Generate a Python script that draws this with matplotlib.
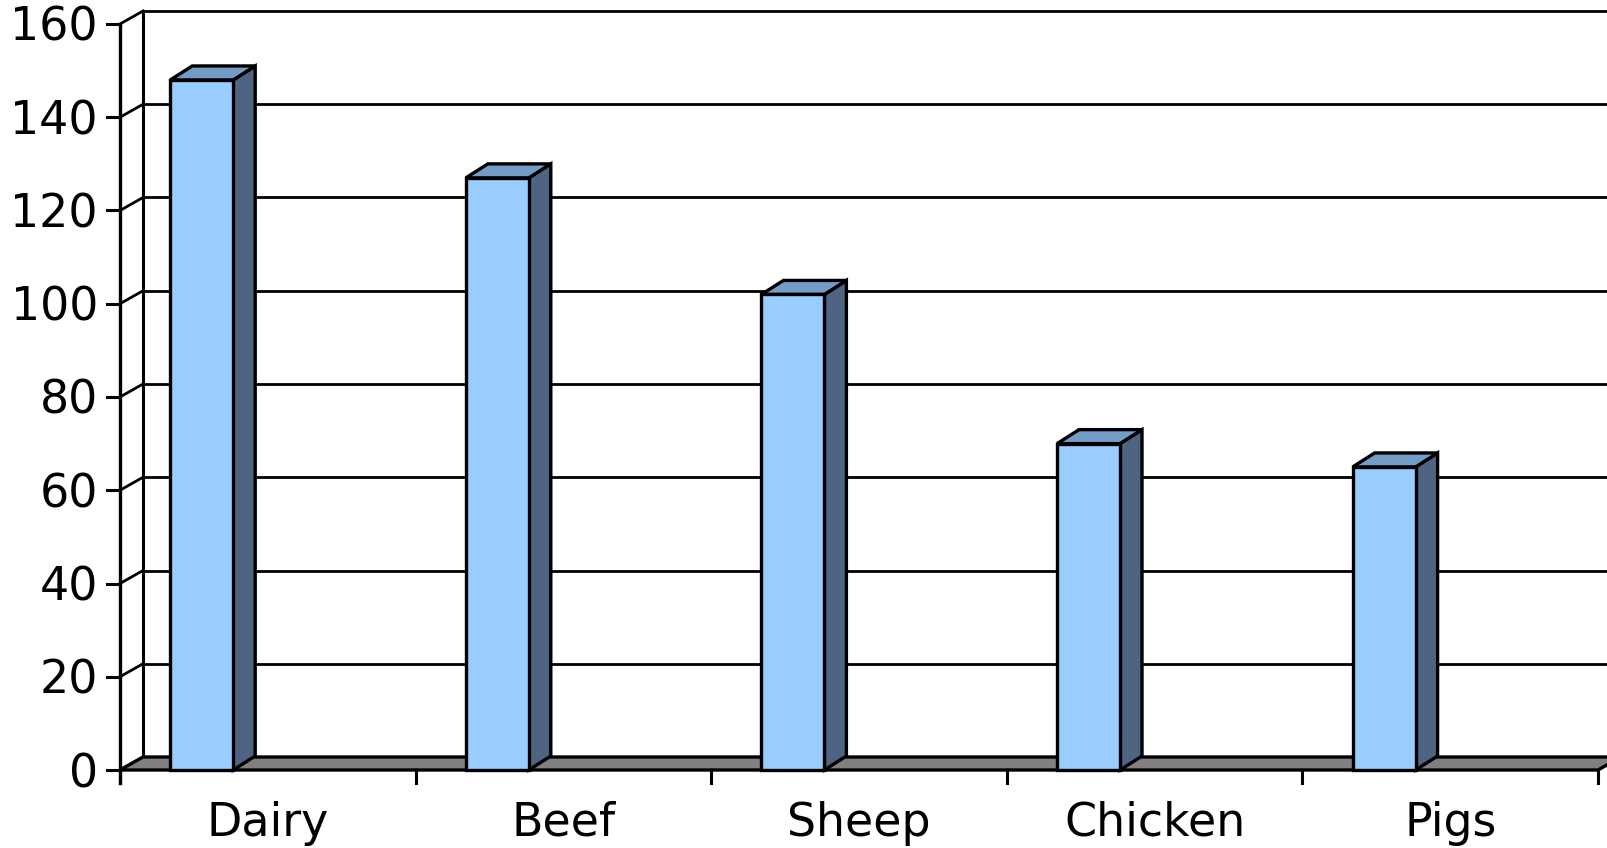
import matplotlib
matplotlib.use('Agg')
import matplotlib.pyplot as plt
from matplotlib.patches import Polygon
from matplotlib.transforms import offset_copy

# data
categories = ['Dairy', 'Beef', 'Sheep', 'Chicken', 'Pigs']
values = [148, 127, 102, 70, 65]
y_ticks = [0, 20, 40, 60, 80, 100, 120, 140, 160]

# colours
FRONT = '#99ccff'
TOP = '#739cc7'
SIDE = '#4e6482'
FLOOR = '#808080'
LINE = '#000000'

W, H = 1608, 848
fig = plt.figure(figsize=(W / 100, H / 100), dpi=100)
fig.patch.set_facecolor('white')

# front plane of the plot in pixel terms
x0_px, x1_px = 120, 1598
y0_px, y1_px = 770, 24
ax = fig.add_axes([x0_px / W, (H - y0_px) / H, (x1_px - x0_px) / W, (y0_px - y1_px) / H])
ax.set_xlim(0, len(categories))
ax.set_ylim(0, 160)
ax.axis('off')

px_x = (x1_px - x0_px) / len(categories)   # pixels per category
px_y = (y0_px - y1_px) / 160.0             # pixels per value unit

# depth offsets (wall / floor and bars)
DX, DY = 23 / px_x, 13 / px_y
BDX, BDY = 22 / px_x, 14 / px_y
xmax = len(categories)
FS = 33

# back wall gridlines + left wall diagonals
for t in y_ticks:
    ax.plot([DX, xmax + DX + 0.2], [t + DY, t + DY], color=LINE, lw=2.0, clip_on=False, zorder=1)
    ax.plot([0, DX], [t, t + DY], color=LINE, lw=2.0, clip_on=False, zorder=1)
ax.plot([DX, DX], [DY, 160 + DY], color=LINE, lw=2.2, clip_on=False, zorder=1)

# floor
floor = Polygon([(0, 0), (xmax, 0), (xmax + DX, DY), (DX, DY)], closed=True,
                facecolor=FLOOR, edgecolor=LINE, lw=2.4, clip_on=False, zorder=2)
ax.add_patch(floor)

# front value axis and ticks
ax.plot([0, 0], [-2.7, 160], color=LINE, lw=2.4, clip_on=False, zorder=5)
lab_tr = offset_copy(ax.transData, fig=fig, x=-22, y=-17, units='dots')
for t in y_ticks:
    ax.plot([-13 / px_x, 0], [t, t], color=LINE, lw=2.2, clip_on=False, zorder=5)
    ax.text(0, t, str(t), transform=lab_tr, ha='right', va='baseline',
            fontsize=FS, family='DejaVu Sans', color='black')

# category ticks and labels
for i in range(len(categories) + 1):
    ax.plot([i, i], [0, -13 / px_y], color=LINE, lw=2.2, clip_on=False, zorder=5)
cat_tr = offset_copy(ax.transData, fig=fig, x=0, y=-66, units='dots')
for i, c in enumerate(categories):
    ax.text(i + 0.5, 0, c, transform=cat_tr, ha='center', va='baseline',
            fontsize=FS, family='DejaVu Sans', color='black')

# 3d-style bars
off, bw = 0.17, 0.213
for i, v in enumerate(values):
    a, b = i + off, i + off + bw
    side = Polygon([(b, 0), (b + BDX, BDY), (b + BDX, v + BDY), (b, v)], closed=True,
                   facecolor=SIDE, edgecolor=LINE, lw=2.4, clip_on=False, zorder=3)
    top = Polygon([(a, v), (b, v), (b + BDX, v + BDY), (a + BDX, v + BDY)], closed=True,
                  facecolor=TOP, edgecolor=LINE, lw=2.4, clip_on=False, zorder=3)
    front = Polygon([(a, 0), (b, 0), (b, v), (a, v)], closed=True,
                    facecolor=FRONT, edgecolor=LINE, lw=2.4, clip_on=False, zorder=4)
    for p in (side, top, front):
        ax.add_patch(p)

fig.savefig('out.png', dpi=100, facecolor='white')
